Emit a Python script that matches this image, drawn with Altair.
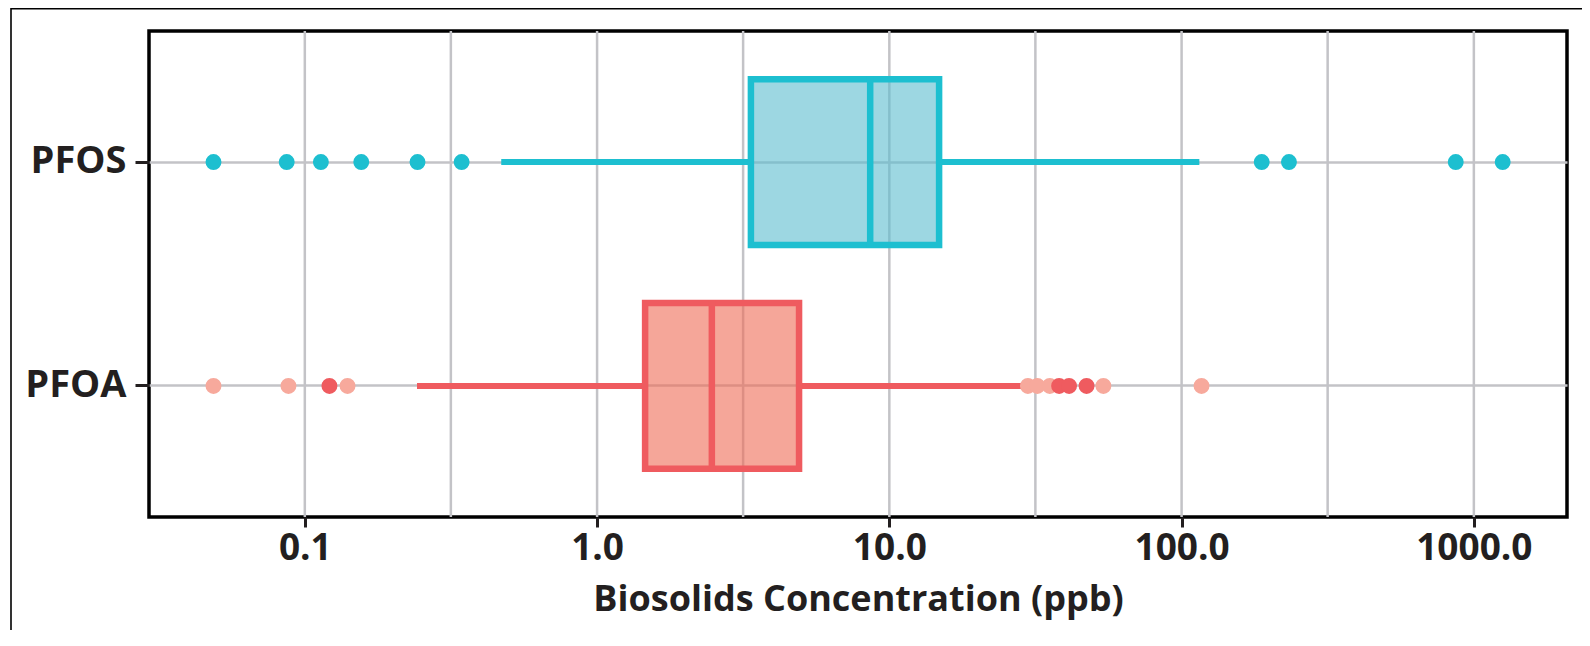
import altair as alt
import pandas as pd

# ---- data ----
categories = ["PFOS", "PFOA"]
q1 = [3.36, 1.46]
medians = [8.6, 2.47]
q3 = [14.8, 4.91]
whisker_low = [0.47, 0.242]
whisker_high = [115.0, 28.4]

pfos_outliers = [0.0487, 0.0867, 0.1135, 0.156, 0.243, 0.344, 188.0, 233.0, 867.0, 1255.0]
pfoa_outliers_light = [0.0487, 0.0879, 0.140, 29.8, 32.1, 35.4, 54.0, 117.0]
pfoa_outliers_dark = [0.1214, 38.1, 41.2, 47.3]

major_ticks = [0.1, 1, 10, 100, 1000]
grid_values = [0.1, 0.316, 1, 3.16, 10, 31.6, 100, 316, 1000]

stroke_colors = ["#1DBFD0", "#EF5B5F"]
fill_colors = ["#5BBDCF", "#EE6B55"]

FONT = "Open Sans"
INK = "#231F20"

# ---- tables ----
boxes = pd.DataFrame({
    "cat": categories, "q1": q1, "median": medians, "q3": q3,
    "lo": whisker_low, "hi": whisker_high,
})
grid_df = pd.DataFrame({"g": grid_values})
pfos_pts = pd.DataFrame({"cat": "PFOS", "v": pfos_outliers})
pfoa_light = pd.DataFrame({"cat": "PFOA", "v": pfoa_outliers_light})
pfoa_dark = pd.DataFrame({"cat": "PFOA", "v": pfoa_outliers_dark})
frame_df = pd.DataFrame({"k": [0]})

xscale = alt.Scale(type="log", domain=[0.0293, 2083], nice=False)
yscale = alt.Scale(domain=categories, paddingInner=0.26, paddingOuter=0.215)

xaxis = alt.Axis(
    values=major_ticks, format=".1f", grid=False, domain=False,
    labelFontSize=37, labelFont=FONT, labelFontWeight="bold", labelColor=INK,
    tickSize=10, tickWidth=3, tickColor=INK, labelPadding=3,
    title="Biosolids Concentration (ppb)", titleFontSize=36, titleFont=FONT,
    titleFontWeight="bold", titleColor=INK, titlePadding=16,
)
yaxis = alt.Axis(
    domain=False, grid=True, gridColor="#C3C3C7", gridWidth=2.5,
    labelFontSize=38, labelFont=FONT, labelFontWeight="bold", labelColor=INK,
    tickSize=14, tickWidth=3, tickColor=INK, labelPadding=9, title=None,
)

X = lambda f: alt.X(f, type="quantitative", scale=xscale, axis=xaxis, title="Biosolids Concentration (ppb)")
Y = alt.Y("cat:N", scale=yscale, axis=yaxis, title=None)
stroke_enc = alt.Color("cat:N", scale=alt.Scale(domain=categories, range=stroke_colors), legend=None)

grid = alt.Chart(grid_df).mark_rule(color="#C3C3C7", strokeWidth=2.5).encode(x=X("g"))

whisk_lo = alt.Chart(boxes).mark_rule(strokeWidth=6, strokeCap="butt").encode(
    x=X("lo"), x2="q1", y=Y, color=stroke_enc)
whisk_hi = alt.Chart(boxes).mark_rule(strokeWidth=6, strokeCap="butt").encode(
    x=X("q3"), x2="hi", y=Y, color=stroke_enc)

box = alt.Chart(boxes).mark_bar(strokeWidth=6.5, fillOpacity=0.6).encode(
    x=X("q1"), x2="q3", y=Y,
    fill=alt.Fill("cat:N", scale=alt.Scale(domain=categories, range=fill_colors), legend=None),
    stroke=alt.Stroke("cat:N", scale=alt.Scale(domain=categories, range=stroke_colors), legend=None),
)
med = alt.Chart(boxes).mark_tick(thickness=6.5, size=172, opacity=1).encode(
    x=X("median"), y=Y, color=stroke_enc)

pts1 = alt.Chart(pfos_pts).mark_circle(size=254, opacity=1, color="#1DBFD0").encode(x=X("v"), y=Y)
pts2 = alt.Chart(pfoa_light).mark_circle(size=254, opacity=1, color="#F7A99C").encode(x=X("v"), y=Y)
pts3 = alt.Chart(pfoa_dark).mark_circle(size=254, opacity=1, color="#EF5B5F").encode(x=X("v"), y=Y)

outer = alt.Chart(frame_df).mark_rect(fillOpacity=0, stroke="black", strokeWidth=1.6, clip=False).encode(
    x=alt.value(-138), x2=alt.value(1500), y=alt.value(-22.2), y2=alt.value(800))

chart = alt.layer(grid, whisk_lo, whisk_hi, box, med, pts1, pts2, pts3, outer).properties(
    width=1418, height=486,
    autosize=alt.AutoSizeParams(type="none"),
    padding={"left": 141, "top": 23, "right": 15, "bottom": 113},
    background="white",
).configure_view(stroke="black", strokeWidth=3.5)

chart.save("out.html", embed_options={"renderer": "svg", "actions": False})
